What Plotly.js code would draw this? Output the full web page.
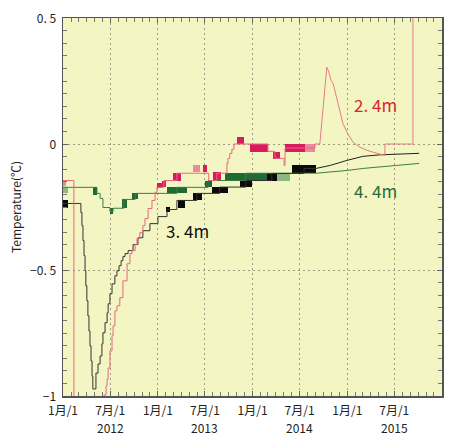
<!DOCTYPE html>
<html><head><meta charset="utf-8">
<script src="https://cdn.plot.ly/plotly-3.0.1.min.js"></script>
<style>html,body{margin:0;padding:0;background:#fff}#chart{width:457px;height:435px}</style>
</head><body><div id="chart"></div>
<script>
// ---- tick labels ----
const tickDates = ['2012-01-01','2012-07-01','2013-01-01','2013-07-01','2014-01-01','2014-07-01','2015-01-01','2015-07-01','2016-01-01'];
const tickMonthLabels = ['1月/1','7月/1','1月/1','7月/1','1月/1','7月/1','1月/1','7月/1','1月/1'];
const yearLabelDates = ['2012-07-01','2013-07-01','2014-07-01','2015-07-01'];
const yearLabels = ['2012','2013','2014','2015'];
const yTickVals = [-1, -0.5, 0, 0.5];
const yTickLabels = ['−1', '−0. 5', '0', '0. 5'];

// ---- 3.4m (black) ----
const blackDates = ['2012-01-01','2012-03-06','2012-03-10','2012-03-14','2012-03-18','2012-03-22','2012-03-26','2012-03-29','2012-04-02','2012-04-06','2012-04-10','2012-04-14','2012-04-18','2012-04-22','2012-04-25','2012-05-07','2012-05-15','2012-05-23','2012-05-30','2012-06-03','2012-06-11','2012-06-19','2012-06-23','2012-06-30','2012-07-08','2012-07-19','2012-07-27','2012-08-04','2012-08-12','2012-08-19','2012-08-27','2012-09-08','2012-09-27','2012-10-16','2012-11-04','2012-12-01','2013-01-01','2013-02-05','2013-03-15','2013-05-31','2013-08-27','2013-12-06','2014-03-16','2014-07-18','2014-09-02'];
const blackVals = [-0.236,-0.236,-0.272,-0.324,-0.383,-0.443,-0.503,-0.562,-0.622,-0.682,-0.742,-0.801,-0.861,-0.921,-0.972,-0.909,-0.873,-0.841,-0.793,-0.749,-0.709,-0.670,-0.634,-0.594,-0.555,-0.523,-0.503,-0.483,-0.463,-0.447,-0.435,-0.423,-0.399,-0.372,-0.344,-0.316,-0.288,-0.260,-0.224,-0.196,-0.171,-0.145,-0.117,-0.097,-0.097];
const blackTailDates = ['2014-09-02','2014-10-27','2014-12-31','2015-03-02','2015-05-07','2015-07-24','2015-10-05'];
const blackTailVals = [-0.097,-0.085,-0.065,-0.049,-0.043,-0.040,-0.037];
const blackBandStart = ['2012-01-01','2013-02-01','2013-03-19','2013-05-16','2013-07-28','2013-11-13','2014-02-25','2014-06-01'];
const blackBandEnd   = ['2012-01-20','2013-02-16','2013-04-15','2013-06-20','2013-09-28','2013-12-29','2014-04-05','2014-09-02'];
const blackBandLow   = [-0.252,-0.270,-0.252,-0.224,-0.196,-0.171,-0.145,-0.117];
const blackBandHigh  = [-0.222,-0.250,-0.224,-0.196,-0.171,-0.145,-0.117,-0.085];

// ---- 4.4m (green) ----
const greenDates = ['2012-01-01','2012-05-11','2012-05-23','2012-06-03','2012-06-30','2012-07-12','2012-08-23','2012-10-05','2013-03-15','2013-07-13','2013-12-06','2014-09-02'];
const greenVals = [-0.172,-0.196,-0.216,-0.252,-0.268,-0.255,-0.220,-0.196,-0.172,-0.145,-0.116,-0.116];
const greenTailDates = ['2014-09-02','2014-10-27','2014-12-31','2015-03-02','2015-05-07','2015-07-11','2015-10-05'];
const greenTailVals = [-0.116,-0.112,-0.105,-0.097,-0.092,-0.085,-0.077];
const greenBandStart = ['2012-04-25','2012-06-30','2012-08-15','2012-09-23','2013-02-05','2013-07-01','2013-09-16'];
const greenBandEnd   = ['2012-05-11','2012-07-12','2012-09-04','2012-10-16','2013-04-23','2013-07-28','2014-03-01'];
const greenBandLow   = [-0.204,-0.276,-0.255,-0.220,-0.196,-0.172,-0.145];
const greenBandHigh  = [-0.172,-0.255,-0.220,-0.196,-0.172,-0.145,-0.116];
const greenFaintStart = ['2012-01-01','2012-03-17','2012-04-02','2014-03-01'];
const greenFaintEnd   = ['2012-01-20','2012-03-19','2012-04-04','2014-05-25'];
const greenFaintLow   = [-0.196,-0.172,-0.172,-0.145];
const greenFaintHigh  = [-0.172,-0.145,-0.145,-0.116];

// ---- 2.4m (red) ----
const redDates = ['2012-01-01','2012-02-12','2012-06-07','2012-06-15','2012-06-19','2012-06-23','2012-06-30','2012-07-08','2012-07-12','2012-07-19','2012-07-27','2012-08-07','2012-08-19','2012-09-04','2012-09-15','2012-09-23','2012-10-05','2012-10-12','2012-10-23','2012-11-04','2012-11-12','2012-11-24','2012-12-09','2012-12-21','2012-12-28','2013-01-24','2013-03-15','2013-07-16','2013-08-16','2013-09-24','2013-09-28','2013-10-05','2013-10-13','2013-10-21','2013-11-13','2014-03-01','2014-03-28','2014-05-02','2014-05-06','2014-08-29','2014-09-17'];
const redVals = [-0.145,-1.3,-0.996,-0.960,-0.933,-0.889,-0.821,-0.761,-0.722,-0.662,-0.642,-0.610,-0.543,-0.475,-0.435,-0.423,-0.399,-0.375,-0.352,-0.324,-0.296,-0.256,-0.224,-0.192,-0.172,-0.145,-0.116,-0.145,-0.116,-0.077,-0.057,-0.037,-0.021,0.0,0.0,-0.029,-0.057,-0.085,-0.016,0.0,0.0];
const redTailDates = ['2014-09-17','2014-09-29','2014-10-07','2014-10-14','2014-10-22','2014-10-30','2014-11-07','2014-11-22','2014-12-04','2014-12-15','2014-12-31','2015-01-11','2015-01-23','2015-02-19','2015-03-18','2015-04-25','2015-05-18','2015-05-26','2015-05-26','2015-09-11','2015-09-11'];
const redTailVals = [0.0,0.134,0.233,0.305,0.285,0.253,0.241,0.174,0.122,0.082,0.046,0.026,0.007,-0.013,-0.025,-0.037,-0.045,-0.045,0.0,0.0,0.7];
const redBandStart = ['2012-12-28','2013-01-16','2013-02-28','2013-06-23','2013-08-01','2013-11-01','2013-12-22','2014-03-20','2014-05-06'];
const redBandEnd   = ['2013-01-16','2013-02-01','2013-03-31','2013-07-09','2013-09-01','2013-11-28','2014-03-01','2014-04-16','2014-07-22'];
const redBandLow   = [-0.175,-0.172,-0.145,-0.113,-0.145,0.0,-0.033,-0.061,-0.033];
const redBandHigh  = [-0.155,-0.145,-0.117,-0.085,-0.113,0.028,0.0,-0.033,0.0];
const redFaintStart = ['2012-01-01','2013-05-16','2014-07-22'];
const redFaintEnd   = ['2012-01-12','2013-06-12','2014-08-29'];
const redFaintLow   = [-0.165,-0.113,-0.033];
const redFaintHigh  = [-0.145,-0.085,0.0];

function bands(starts, ends, lows, highs, color) {
  const t1 = starts.map(s => Date.parse(s));
  const t2 = ends.map(s => Date.parse(s));
  return {
    type: 'bar', x: t1.map((a, i) => (a + t2[i]) / 2), width: t1.map((a, i) => Math.max(t2[i] - a, 86400000)),
    base: lows, y: highs.map((h, i) => h - lows[i]),
    marker: {color: color, line: {width: 0}}, hoverinfo: 'skip', showlegend: false
  };
}
function line(x, y, color, shape) {
  return {type: 'scatter', mode: 'lines', x: x, y: y, line: {color: color, width: 1, shape: shape}, hoverinfo: 'skip', showlegend: false};
}

const jp = '"Noto Sans CJK JP", "Noto Sans", sans-serif';
const data = [
  bands(greenFaintStart, greenFaintEnd, greenFaintLow, greenFaintHigh, '#8db886'),
  bands(greenBandStart, greenBandEnd, greenBandLow, greenBandHigh, '#1d6a35'),
  bands(blackBandStart, blackBandEnd, blackBandLow, blackBandHigh, '#0a0a0a'),
  bands(redFaintStart, redFaintEnd, redFaintLow, redFaintHigh, '#e88aa0'),
  bands(redBandStart, redBandEnd, redBandLow, redBandHigh, '#d81b5e'),
  line(greenDates, greenVals, '#3d7f45', 'hv'),
  line(greenTailDates, greenTailVals, '#3d7f45', 'linear'),
  line(blackDates, blackVals, '#333333', 'hv'),
  line(blackTailDates, blackTailVals, '#222222', 'linear'),
  line(redDates, redVals, '#e8687e', 'hv'),
  line(redTailDates, redTailVals, '#ea7b86', 'linear')
];

const annotations = [
  {x: '2015-04-18', y: 0.158, text: '2. 4m', showarrow: false, font: {family: jp, size: 17, color: '#d8282c'}},
  {x: '2015-04-18', y: -0.184, text: '4. 4m', showarrow: false, font: {family: jp, size: 17, color: '#2b6d3a'}},
  {x: '2013-04-23', y: -0.344, text: '3. 4m', showarrow: false, font: {family: jp, size: 17, color: '#111'}}
];
yearLabelDates.forEach((d, i) => annotations.push({
  x: d, xref: 'x', y: 0, yref: 'paper', yanchor: 'middle', yshift: -31.5, borderpad: 0,
  text: yearLabels[i], showarrow: false, font: {family: jp, size: 12, color: '#222'}
}));

const layout = {
  width: 457, height: 435,
  margin: {l: 63, r: 15, t: 18, b: 39},
  paper_bgcolor: '#ffffff', plot_bgcolor: '#f3f5c3',
  barmode: 'overlay', bargap: 0,
  showlegend: false,
  font: {family: jp, size: 12, color: '#222'},
  xaxis: {
    type: 'date', range: ['2012-01-01', '2016-01-01'],
    tickmode: 'array', tickvals: tickDates, ticktext: tickMonthLabels,
    ticks: 'inside', ticklen: 5, tickcolor: '#666', ticklabelstandoff: 3,
    showgrid: true, gridcolor: '#9d9d86', griddash: '2px,3px', gridwidth: 1,
    showline: true, linecolor: '#555', linewidth: 1.5, mirror: 'allticks',
    minor: {dtick: 'M1', ticks: 'inside', ticklen: 4, tickcolor: '#777', showgrid: false},
    tickfont: {family: jp, size: 12, color: '#222'}, fixedrange: true
  },
  yaxis: {
    range: [-1, 0.5], tickmode: 'array', tickvals: yTickVals, ticktext: yTickLabels,
    ticks: 'inside', ticklen: 5, tickcolor: '#666', ticklabelstandoff: 3, ticklabelshift: 1,
    showgrid: true, gridcolor: '#9d9d86', griddash: '2px,3px', gridwidth: 1, zeroline: false,
    showline: true, linecolor: '#555', linewidth: 1.5, mirror: 'allticks',
    minor: {dtick: 0.05, tick0: 0, ticks: 'inside', ticklen: 4, tickcolor: '#777', showgrid: false},
    tickfont: {family: jp, size: 12, color: '#222'},
    title: {text: 'Temperature(℃)', font: {family: jp, size: 12, color: '#222'}, standoff: 6},
    fixedrange: true
  },
  annotations: annotations
};
Plotly.newPlot('chart', data, layout, {displayModeBar: false, staticPlot: true});
</script></body></html>
